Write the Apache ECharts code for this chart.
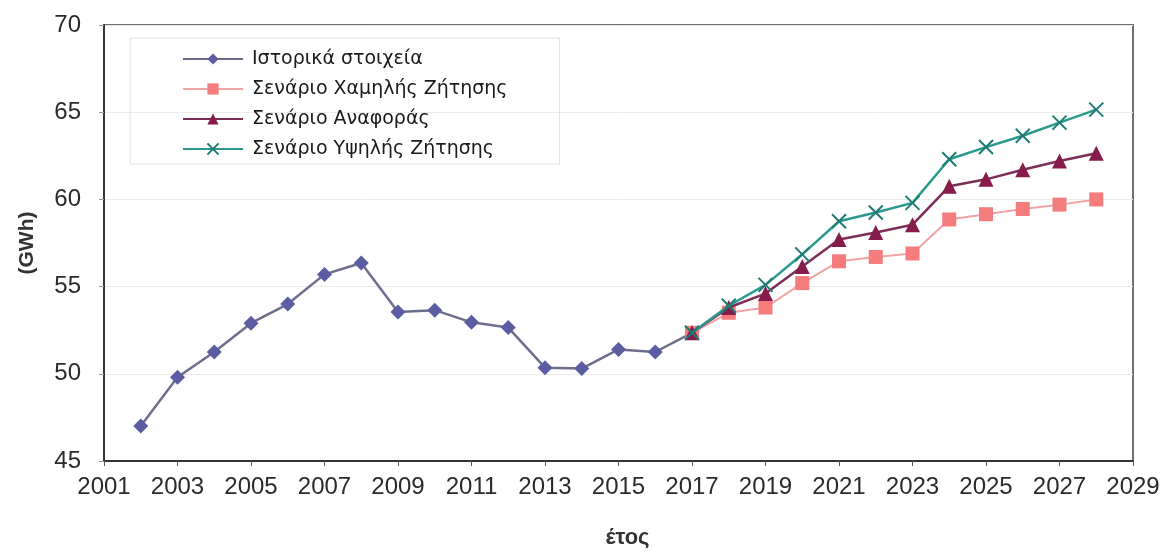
<!DOCTYPE html>
<html>
<head>
<meta charset="utf-8">
<script src="https://cdn.jsdelivr.net/npm/echarts@6/dist/echarts.min.js"></script>
<style>
    html, body { margin: 0; padding: 0; background: #fff; }
    #line { width: 1172px; height: 554px; }
</style>
</head>
<body>
<div id="line"></div>
<script>
    // historical 2002-2017
    var histYears = [2002, 2003, 2004, 2005, 2006, 2007, 2008, 2009, 2010, 2011, 2012, 2013, 2014, 2015, 2016, 2017];
    var histValues = [47.0, 49.8, 51.25, 52.9, 54.0, 55.7, 56.35, 53.55, 53.65, 52.95, 52.65, 50.35, 50.3, 51.4, 51.25, 52.35];

    // scenarios 2017-2028
    var scenYears = [2017, 2018, 2019, 2020, 2021, 2022, 2023, 2024, 2025, 2026, 2027, 2028];
    var lowValues = [52.35, 53.5, 53.8, 55.2, 56.45, 56.7, 56.9, 58.85, 59.15, 59.45, 59.7, 60.0];
    var refValues = [52.35, 53.8, 54.6, 56.15, 57.7, 58.1, 58.55, 60.75, 61.15, 61.7, 62.2, 62.65];
    var highValues = [52.35, 53.9, 55.1, 56.85, 58.75, 59.25, 59.8, 62.3, 63.0, 63.65, 64.4, 65.15];

    var seriesNames = ['Ιστορικά στοιχεία', 'Σενάριο Χαμηλής Ζήτησης', 'Σενάριο Αναφοράς', 'Σενάριο Υψηλής Ζήτησης'];

    function pairs(xs, ys) {
        var out = [];
        for (var i = 0; i < xs.length; i++) {
            out.push([xs[i], ys[i]]);
        }
        return out;
    }

    var myChart = echarts.init(document.getElementById('line'));
    var axisFont = "'Liberation Sans', Arial, sans-serif";

    var option = {
        animation: false,
        backgroundColor: '#fff',
        grid: {
            left: 104,
            right: 39,
            top: 25,
            bottom: 91,
            show: true,
            borderColor: '#6f6f6f',
            borderWidth: 2
        },
        legend: {
            orient: 'vertical',
            left: 130,
            top: 38,
            padding: [11, 52, 5, 52],
            borderColor: '#e2e2e2',
            borderWidth: 1,
            itemWidth: 60,
            itemHeight: 14,
            itemGap: 10,
            data: seriesNames,
            textStyle: {
                fontFamily: "'DejaVu Sans', sans-serif",
                fontSize: 19,
                lineHeight: 20,
                color: '#1a1a1a',
                padding: [0, 0, 0, 4]
            }
        },
        xAxis: {
            type: 'value',
            min: 2001,
            max: 2029,
            interval: 2,
            name: 'έτος',
            nameLocation: 'middle',
            nameGap: 66,
            nameTextStyle: {
                fontFamily: axisFont,
                fontSize: 22,
                fontWeight: 'bold',
                color: '#333',
                padding: [0, 0, 0, 18]
            },
            axisLine: { show: true, lineStyle: { color: '#333', width: 2 } },
            axisTick: { show: true, inside: false, length: 5, lineStyle: { color: '#555' } },
            splitLine: { show: false },
            axisLabel: {
                margin: 14,
                fontFamily: axisFont,
                fontSize: 24,
                color: '#2a2a2a',
                formatter: function (v) { return String(v); }
            }
        },
        yAxis: {
            type: 'value',
            min: 45,
            max: 70,
            interval: 5,
            name: '(GWh)',
            nameLocation: 'middle',
            nameGap: 66,
            nameTextStyle: {
                fontFamily: axisFont,
                fontSize: 21,
                fontWeight: 'bold',
                color: '#333'
            },
            axisLine: { show: true, lineStyle: { color: '#333', width: 2 } },
            axisTick: { show: true, inside: false, length: 5, lineStyle: { color: '#999' } },
            splitLine: { show: true, lineStyle: { color: '#ebebeb', width: 1 } },
            axisLabel: {
                margin: 23,
                fontFamily: axisFont,
                fontSize: 24,
                color: '#2a2a2a'
            }
        },
        series: [
            {
                name: seriesNames[0],
                type: 'line',
                data: pairs(histYears, histValues),
                symbol: 'diamond',
                symbolSize: 15,
                itemStyle: { color: '#5c5ca3' },
                lineStyle: { color: '#6e6e8c', width: 2.5 },
                z: 2
            },
            {
                name: seriesNames[1],
                type: 'line',
                data: pairs(scenYears, lowValues),
                symbol: 'rect',
                symbolSize: 14,
                itemStyle: { color: '#f47c7c' },
                lineStyle: { color: '#f2a3a3', width: 2 },
                z: 3
            },
            {
                name: seriesNames[2],
                type: 'line',
                data: pairs(scenYears, refValues),
                symbol: 'triangle',
                symbolSize: 15,
                itemStyle: { color: '#861c4c' },
                lineStyle: { color: '#7e2d58', width: 2.5 },
                z: 4
            },
            {
                name: seriesNames[3],
                type: 'line',
                data: pairs(scenYears, highValues),
                symbol: 'path://M0,0L10,10M10,0L0,10',
                symbolSize: 14,
                itemStyle: { color: '#1f7c74', borderColor: '#1f7c74', borderWidth: 2 },
                lineStyle: { color: '#2a9a8e', width: 2.5 },
                z: 5
            }
        ]
    };

    myChart.setOption(option);
    window.addEventListener("resize", function () {
        myChart.resize();
    }, false);
</script>
</body>
</html>
